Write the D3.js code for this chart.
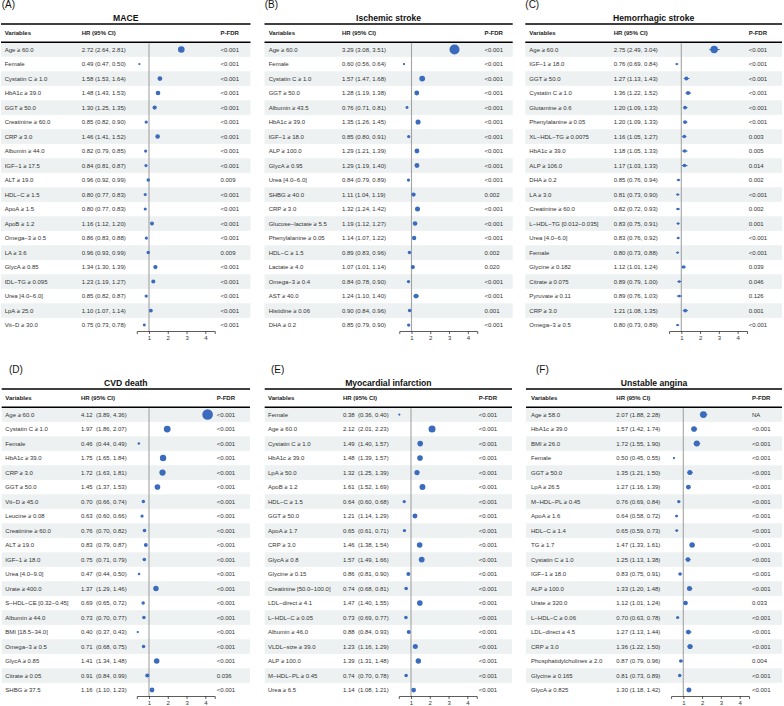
<!DOCTYPE html>
<head>
<meta charset="utf-8">
<script src="https://d3js.org/d3.v7.min.js"></script>
<style>
  body { margin:0; background:#fff; }
  text { font-family: "Liberation Sans", Arial, sans-serif; white-space: pre; }
</style>
</head>
<body>
<div id="chart"></div>
<script>
// ---------- data ----------
var maceVars = ["Age ≥ 60.0","Female","Cystatin C ≥ 1.0","HbA1c ≥ 39.0","GGT ≥ 50.0","Creatinine ≥ 60.0","CRP ≥ 3.0","Albumin ≥ 44.0","IGF−1 ≥ 17.5","ALT ≥ 19.0","HDL−C ≥ 1.5","ApoA ≥ 1.5","ApoB ≥ 1.2","Omega−3 ≥ 0.5","LA ≥ 3.6","GlycA ≥ 0.85","IDL−TG ≥ 0.095","Urea [4.0−6.0]","LpA ≥ 25.0","Vit−D ≥ 30.0"];
var maceHR = [2.72,0.49,1.58,1.48,1.30,0.85,1.46,0.82,0.84,0.96,0.80,0.80,1.16,0.86,0.96,1.34,1.23,0.85,1.10,0.75];
var maceLo = [2.64,0.47,1.53,1.43,1.25,0.82,1.41,0.79,0.81,0.92,0.77,0.77,1.12,0.83,0.93,1.30,1.19,0.82,1.07,0.73];
var maceHi = [2.81,0.50,1.64,1.53,1.35,0.90,1.52,0.85,0.87,0.99,0.83,0.83,1.20,0.88,0.99,1.39,1.27,0.87,1.14,0.78];
var maceP  = ["<0.001","<0.001","<0.001","<0.001","<0.001","<0.001","<0.001","<0.001","<0.001","0.009","<0.001","<0.001","<0.001","<0.001","0.009","<0.001","<0.001","<0.001","<0.001","<0.001"];

var isVars = ["Age ≥ 60.0","Female","Cystatin C ≥ 1.0","GGT ≥ 50.0","Albumin ≥ 43.5","HbA1c ≥ 39.0","IGF−1 ≥ 18.0","ALP ≥ 100.0","GlycA ≥ 0.95","Urea [4.0−6.0]","SHBG ≥ 40.0","CRP ≥ 3.0","Glucose−lactate ≥ 5.5","Phenylalanine ≥ 0.05","HDL−C ≥ 1.5","Lactate ≥ 4.0","Omega−3 ≥ 0.4","AST ≥ 40.0","Histidine ≥ 0.06","DHA ≥ 0.2"];
var isHR = [3.29,0.60,1.57,1.28,0.76,1.35,0.85,1.29,1.29,0.84,1.11,1.32,1.19,1.14,0.89,1.07,0.84,1.24,0.90,0.85];
var isLo = [3.08,0.56,1.47,1.19,0.71,1.26,0.80,1.21,1.19,0.79,1.04,1.24,1.12,1.07,0.83,1.01,0.78,1.10,0.84,0.79];
var isHi = [3.51,0.64,1.68,1.38,0.81,1.45,0.91,1.39,1.40,0.89,1.19,1.42,1.27,1.22,0.96,1.14,0.90,1.40,0.96,0.90];
var isP  = ["<0.001","<0.001","<0.001","<0.001","<0.001","<0.001","<0.001","<0.001","<0.001","<0.001","0.002","<0.001","<0.001","<0.001","0.002","0.020","<0.001","<0.001","0.001","<0.001"];

var hsVars = ["Age ≥ 60.0","IGF−1 ≥ 18.0","GGT ≥ 50.0","Cystatin C ≥ 1.0","Glutamine ≥ 0.6","Phenylalanine ≥ 0.05","XL−HDL−TG ≥ 0.0075","HbA1c ≥ 39.0","ALP ≥ 106.0","DHA ≥ 0.2","LA ≥ 3.0","Creatinine ≥ 60.0","L−HDL−TG [0.012−0.035]","Urea [4.0−6.0]","Female","Glycine ≥ 0.182","Citrate ≥ 0.075","Pyruvate ≥ 0.11","CRP ≥ 3.0","Omega−3 ≥ 0.5"];
var hsHR = [2.75,0.76,1.27,1.36,1.20,1.20,1.16,1.18,1.17,0.85,0.81,0.82,0.83,0.83,0.80,1.12,0.89,0.89,1.21,0.80];
var hsLo = [2.49,0.69,1.13,1.22,1.09,1.09,1.05,1.05,1.03,0.76,0.73,0.72,0.75,0.76,0.73,1.01,0.79,0.76,1.08,0.73];
var hsHi = [3.04,0.84,1.43,1.52,1.33,1.33,1.27,1.33,1.33,0.94,0.90,0.93,0.91,0.92,0.88,1.24,1.00,1.03,1.35,0.89];
var hsP  = ["<0.001","<0.001","<0.001","<0.001","<0.001","<0.001","0.003","0.005","0.014","0.002","<0.001","0.002","0.001","<0.001","<0.001","0.039","0.046","0.126","0.001","<0.001"];

var cvdVars = ["Age ≥ 60.0","Cystatin C ≥ 1.0","Female","HbA1c ≥ 39.0","CRP ≥ 3.0","GGT ≥ 50.0","Vit−D ≥ 45.0","Leucine ≥ 0.08","Creatinine ≥ 60.0","ALT ≥ 19.0","IGF−1 ≥ 18.0","Urea [4.0−9.0]","Urate ≥ 400.0","S−HDL−CE [0.32−0.45]","Albumin ≥ 44.0","BMI [18.5−34.0]","Omega−3 ≥ 0.5","GlycA ≥ 0.85","Citrate ≥ 0.05","SHBG ≥ 37.5"];
var cvdHR = [4.12,1.97,0.46,1.75,1.72,1.45,0.70,0.63,0.76,0.83,0.75,0.47,1.37,0.69,0.73,0.40,0.71,1.41,0.91,1.16];
var cvdLo = [3.89,1.86,0.44,1.65,1.63,1.37,0.66,0.60,0.70,0.79,0.71,0.44,1.29,0.65,0.70,0.37,0.68,1.34,0.84,1.10];
var cvdHi = [4.36,2.07,0.49,1.84,1.81,1.53,0.74,0.66,0.82,0.87,0.79,0.50,1.46,0.72,0.77,0.43,0.75,1.48,0.99,1.23];
var cvdP  = ["<0.001","<0.001","<0.001","<0.001","<0.001","<0.001","<0.001","<0.001","<0.001","<0.001","<0.001","<0.001","<0.001","<0.001","<0.001","<0.001","<0.001","<0.001","0.036","<0.001"];

var miVars = ["Female","Age ≥ 60.0","Cystatin C ≥ 1.0","HbA1c ≥ 39.0","LpA ≥ 50.0","ApoB ≥ 1.2","HDL−C ≥ 1.5","GGT ≥ 50.0","ApoA ≥ 1.7","CRP ≥ 3.0","GlycA ≥ 0.8","Glycine ≥ 0.15","Creatinine [50.0−100.0]","LDL−direct ≥ 4.1","L−HDL−C ≥ 0.05","Albumin ≥ 46.0","VLDL−size ≥ 39.0","ALP ≥ 100.0","M−HDL−PL ≥ 0.45","Urea ≥ 6.5"];
var miHR = [0.38,2.12,1.49,1.48,1.32,1.61,0.64,1.21,0.65,1.46,1.57,0.86,0.74,1.47,0.73,0.88,1.23,1.39,0.74,1.14];
var miLo = [0.36,2.01,1.40,1.39,1.25,1.52,0.60,1.14,0.61,1.38,1.49,0.81,0.68,1.40,0.69,0.84,1.16,1.31,0.70,1.08];
var miHi = [0.40,2.23,1.57,1.57,1.39,1.69,0.68,1.29,0.71,1.54,1.66,0.90,0.81,1.55,0.77,0.93,1.29,1.48,0.78,1.21];
var miP  = ["<0.001","<0.001","<0.001","<0.001","<0.001","<0.001","<0.001","<0.001","<0.001","<0.001","<0.001","<0.001","<0.001","<0.001","<0.001","<0.001","<0.001","<0.001","<0.001","<0.001"];

var uaVars = ["Age ≥ 58.0","HbA1c ≥ 39.0","BMI ≥ 26.0","Female","GGT ≥ 50.0","LpA ≥ 26.5","M−HDL−PL ≥ 0.45","ApoA ≥ 1.6","HDL−C ≥ 1.4","TG ≥ 1.7","Cystatin C ≥ 1.0","IGF−1 ≥ 18.0","ALP ≥ 100.0","Urate ≥ 320.0","L−HDL−C ≥ 0.06","LDL−direct ≥ 4.5","CRP ≥ 3.0","Phosphatidylcholines ≥ 2.0","Glycine ≥ 0.165","GlycA ≥ 0.825"];
var uaHR = [2.07,1.57,1.72,0.50,1.35,1.27,0.76,0.64,0.65,1.47,1.25,0.83,1.33,1.12,0.70,1.27,1.36,0.87,0.81,1.30];
var uaLo = [1.88,1.42,1.55,0.45,1.21,1.16,0.69,0.58,0.59,1.33,1.13,0.75,1.20,1.01,0.63,1.13,1.22,0.79,0.73,1.18];
var uaHi = [2.28,1.74,1.90,0.55,1.50,1.39,0.84,0.72,0.73,1.61,1.38,0.91,1.48,1.24,0.78,1.44,1.50,0.96,0.89,1.42];
var uaP  = ["NA","<0.001","<0.001","<0.001","<0.001","<0.001","<0.001","<0.001","<0.001","<0.001","<0.001","<0.001","<0.001","0.033","<0.001","<0.001","<0.001","0.004","<0.001","<0.001"];

var xTicks = [1, 2, 3, 4];

// ---------- layout ----------
var W = 784, H = 706;
var blue = "#3b6bbd", band = "#edf1f1";
var rowH = 14.5;

var panels = [
  {tag:"(A)", tagX:1.7,  title:"MACE", vars:maceVars, hr:maceHR, lo:maceLo, hi:maceHi, p:maceP,
   top:24, left:1, right:250.5, varX:4.7, hrX:81.7, one:149, pX:220.5, rMax:3.3, gap:" "},
  {tag:"(B)", tagX:264.7, title:"Ischemic stroke", vars:isVars, hr:isHR, lo:isLo, hi:isHi, p:isP,
   top:24, left:264.5, right:512.7, varX:268.7, hrX:342, one:411.5, pX:484.5, rMax:5, gap:" "},
  {tag:"(C)", tagX:525.3, title:"Hemorrhagic stroke", vars:hsVars, hr:hsHR, lo:hsLo, hi:hsHi, p:hsP,
   top:24, left:525.3, right:782, varX:529.3, hrX:613.7, one:681.3, pX:748.7, rMax:3.7, gap:" "},
  {tag:"(D)", tagX:9, title:"CVD death", vars:cvdVars, hr:cvdHR, lo:cvdLo, hi:cvdHi, p:cvdP,
   top:389, left:1.7, right:250, varX:5.3, hrX:81, one:149, pX:216.7, rMax:5.3, gap:"  "},
  {tag:"(E)", tagX:271, title:"Myocardial infarction", vars:miVars, hr:miHR, lo:miLo, hi:miHi, p:miP,
   top:389, left:264.7, right:512, varX:268, hrX:343, one:411, pX:478.7, rMax:3.5, gap:"  "},
  {tag:"(F)", tagX:536, title:"Unstable angina", vars:uaVars, hr:uaHR, lo:uaLo, hi:uaHi, p:uaP,
   top:389, left:526, right:782, varX:531, hrX:616.3, one:683.3, pX:752, rMax:3.4, gap:" "}
];

var svg = d3.select("#chart").append("svg")
  .attr("width", W).attr("height", H);

var f2 = d3.format(".2f");
var unit = 18.78;

panels.forEach(function(P) {
  var g = svg.append("g");
  var n = P.vars.length;
  var rowsTop = P.top + 18.3;
  var axisY = P.top + 307;
  var rows = d3.range(n);

  var x = d3.scaleLinear().domain([0.35, 4.5])
    .range([P.one - 0.65 * unit, P.one + 3.5 * unit]);
  var y = d3.scaleBand().domain(rows).range([rowsTop, rowsTop + n * rowH]);
  var r = d3.scaleSqrt().domain([d3.min(P.hr), d3.max(P.hr)]).range([1.1, P.rMax]);

  // tag and title
  g.append("text").attr("x", P.tagX).attr("y", P.top - 16)
    .attr("font-size", 10).attr("fill", "#111").text(P.tag);
  g.append("text").attr("x", (P.left + P.right) / 2).attr("y", P.top - 2.8)
    .attr("text-anchor", "middle").attr("font-size", 8.6).attr("font-weight", "bold")
    .attr("fill", "#111").text(P.title);

  // zebra rows
  g.selectAll("rect.band").data(rows.filter(function(i) { return i % 2 === 0; }))
    .enter().append("rect")
    .attr("x", P.left).attr("width", P.right - P.left)
    .attr("y", function(i) { return y(i); }).attr("height", y.bandwidth())
    .attr("fill", band);

  // header
  var hy = P.top + 9.3;
  [["Variables", P.varX], ["HR (95% CI)", P.hrX], ["P-FDR", P.pX]].forEach(function(h) {
    g.append("text").attr("x", h[1]).attr("y", hy).attr("dy", "0.35em")
      .attr("font-size", 6).attr("font-weight", "bold").attr("fill", "#222").text(h[0]);
  });
  g.append("line").attr("x1", P.left).attr("x2", P.right).attr("y1", P.top).attr("y2", P.top)
    .attr("stroke", "#000").attr("stroke-width", 1.6);
  g.append("line").attr("x1", P.left).attr("x2", P.right).attr("y1", rowsTop).attr("y2", rowsTop)
    .attr("stroke", "#000").attr("stroke-width", 1.6);

  // reference line at HR = 1
  g.append("line").attr("x1", x(1)).attr("x2", x(1)).attr("y1", rowsTop + 1).attr("y2", axisY)
    .attr("stroke", "#a3a3a3").attr("stroke-width", 1.1);

  // text columns
  var cy = function(i) { return y(i) + y.bandwidth() / 2; };
  g.selectAll("text.var").data(rows).enter().append("text")
    .attr("x", P.varX).attr("y", cy).attr("dy", "0.35em")
    .attr("font-size", 6).attr("fill", "#333")
    .text(function(i) { return P.vars[i]; });
  g.selectAll("text.hr").data(rows).enter().append("text")
    .attr("x", P.hrX).attr("y", cy).attr("dy", "0.35em")
    .attr("font-size", 6).attr("fill", "#333")
    .text(function(i) { return f2(P.hr[i]) + P.gap + "(" + f2(P.lo[i]) + ", " + f2(P.hi[i]) + ")"; });
  g.selectAll("text.p").data(rows).enter().append("text")
    .attr("x", P.pX).attr("y", cy).attr("dy", "0.35em")
    .attr("font-size", 6).attr("fill", "#333")
    .text(function(i) { return P.p[i]; });

  // CI lines and points
  g.selectAll("line.ci").data(rows).enter().append("line")
    .attr("x1", function(i) { return x(P.lo[i]); })
    .attr("x2", function(i) { return x(P.hi[i]); })
    .attr("y1", cy).attr("y2", cy)
    .attr("stroke", blue).attr("stroke-width", 1.1);
  g.selectAll("circle.pt").data(rows).enter().append("circle")
    .attr("cx", function(i) { return x(P.hr[i]); })
    .attr("cy", cy)
    .attr("r", function(i) { return r(P.hr[i]); })
    .attr("fill", blue);

  // x axis
  var ax = g.append("g").attr("transform", "translate(0," + axisY + ")")
    .call(d3.axisBottom(x).tickValues(xTicks).tickSize(3).tickPadding(1.5).tickFormat(d3.format("d")));
  ax.select(".domain").attr("stroke", "#333").attr("stroke-width", 0.8);
  ax.selectAll(".tick line").attr("stroke", "#333").attr("stroke-width", 0.8);
  ax.selectAll(".tick text").attr("font-size", 6).attr("fill", "#333")
    .attr("font-family", "Liberation Sans, Arial, sans-serif");
});
</script>
</body>
